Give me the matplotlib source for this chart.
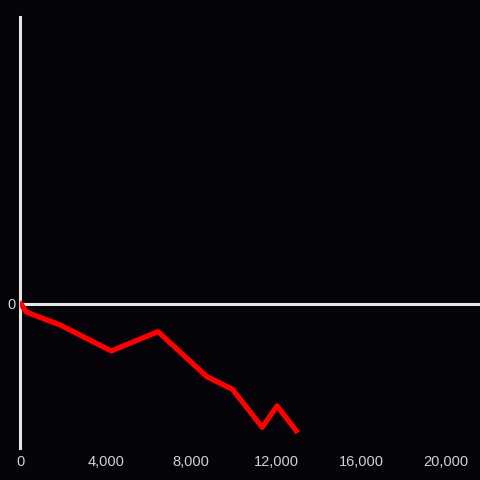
import matplotlib
matplotlib.use("Agg")
from matplotlib import pyplot as plt

# series
xs = [0, 250, 1850, 4250, 6450, 8750, 9950, 11350, 12050, 12950]
ys = [0, -0.056, -0.146, -0.326, -0.192, -0.505, -0.592, -0.856, -0.708, -0.880]
xticks = [0, 4000, 8000, 12000, 16000, 20000]

bg = "#060408"
axis_col = "#e6e6e6"
text_col = "#d2d2d2"

fig = plt.figure(figsize=(4.8, 4.8), dpi=100, facecolor=bg)
ax = fig.add_axes([20 / 480, 32 / 480, 460 / 480, 431 / 480], facecolor=bg)

ax.plot(xs, ys, color="#ff0000", lw=3.8, solid_joinstyle="round", zorder=3)
ax.axhline(0, color=axis_col, lw=2.2, zorder=2)

ax.set_xlim(-47, 21600)
ax.set_ylim(-1, 1.993)

for s in ["top", "right", "bottom"]:
    ax.spines[s].set_visible(False)
ax.spines["left"].set_color(axis_col)
ax.spines["left"].set_linewidth(2.2)

ax.set_xticks(xticks)
ax.set_xticklabels([f"{v:,}" for v in xticks])
ax.set_yticks([0])
ax.set_yticklabels(["0"])
ax.tick_params(length=0, colors=text_col, labelsize=10.5)
ax.tick_params(axis="x", pad=5)
ax.tick_params(axis="y", pad=3)
for lab in ax.get_xticklabels() + ax.get_yticklabels():
    lab.set_fontfamily("Liberation Sans")

fig.savefig("out.png", dpi=100, facecolor=bg)
